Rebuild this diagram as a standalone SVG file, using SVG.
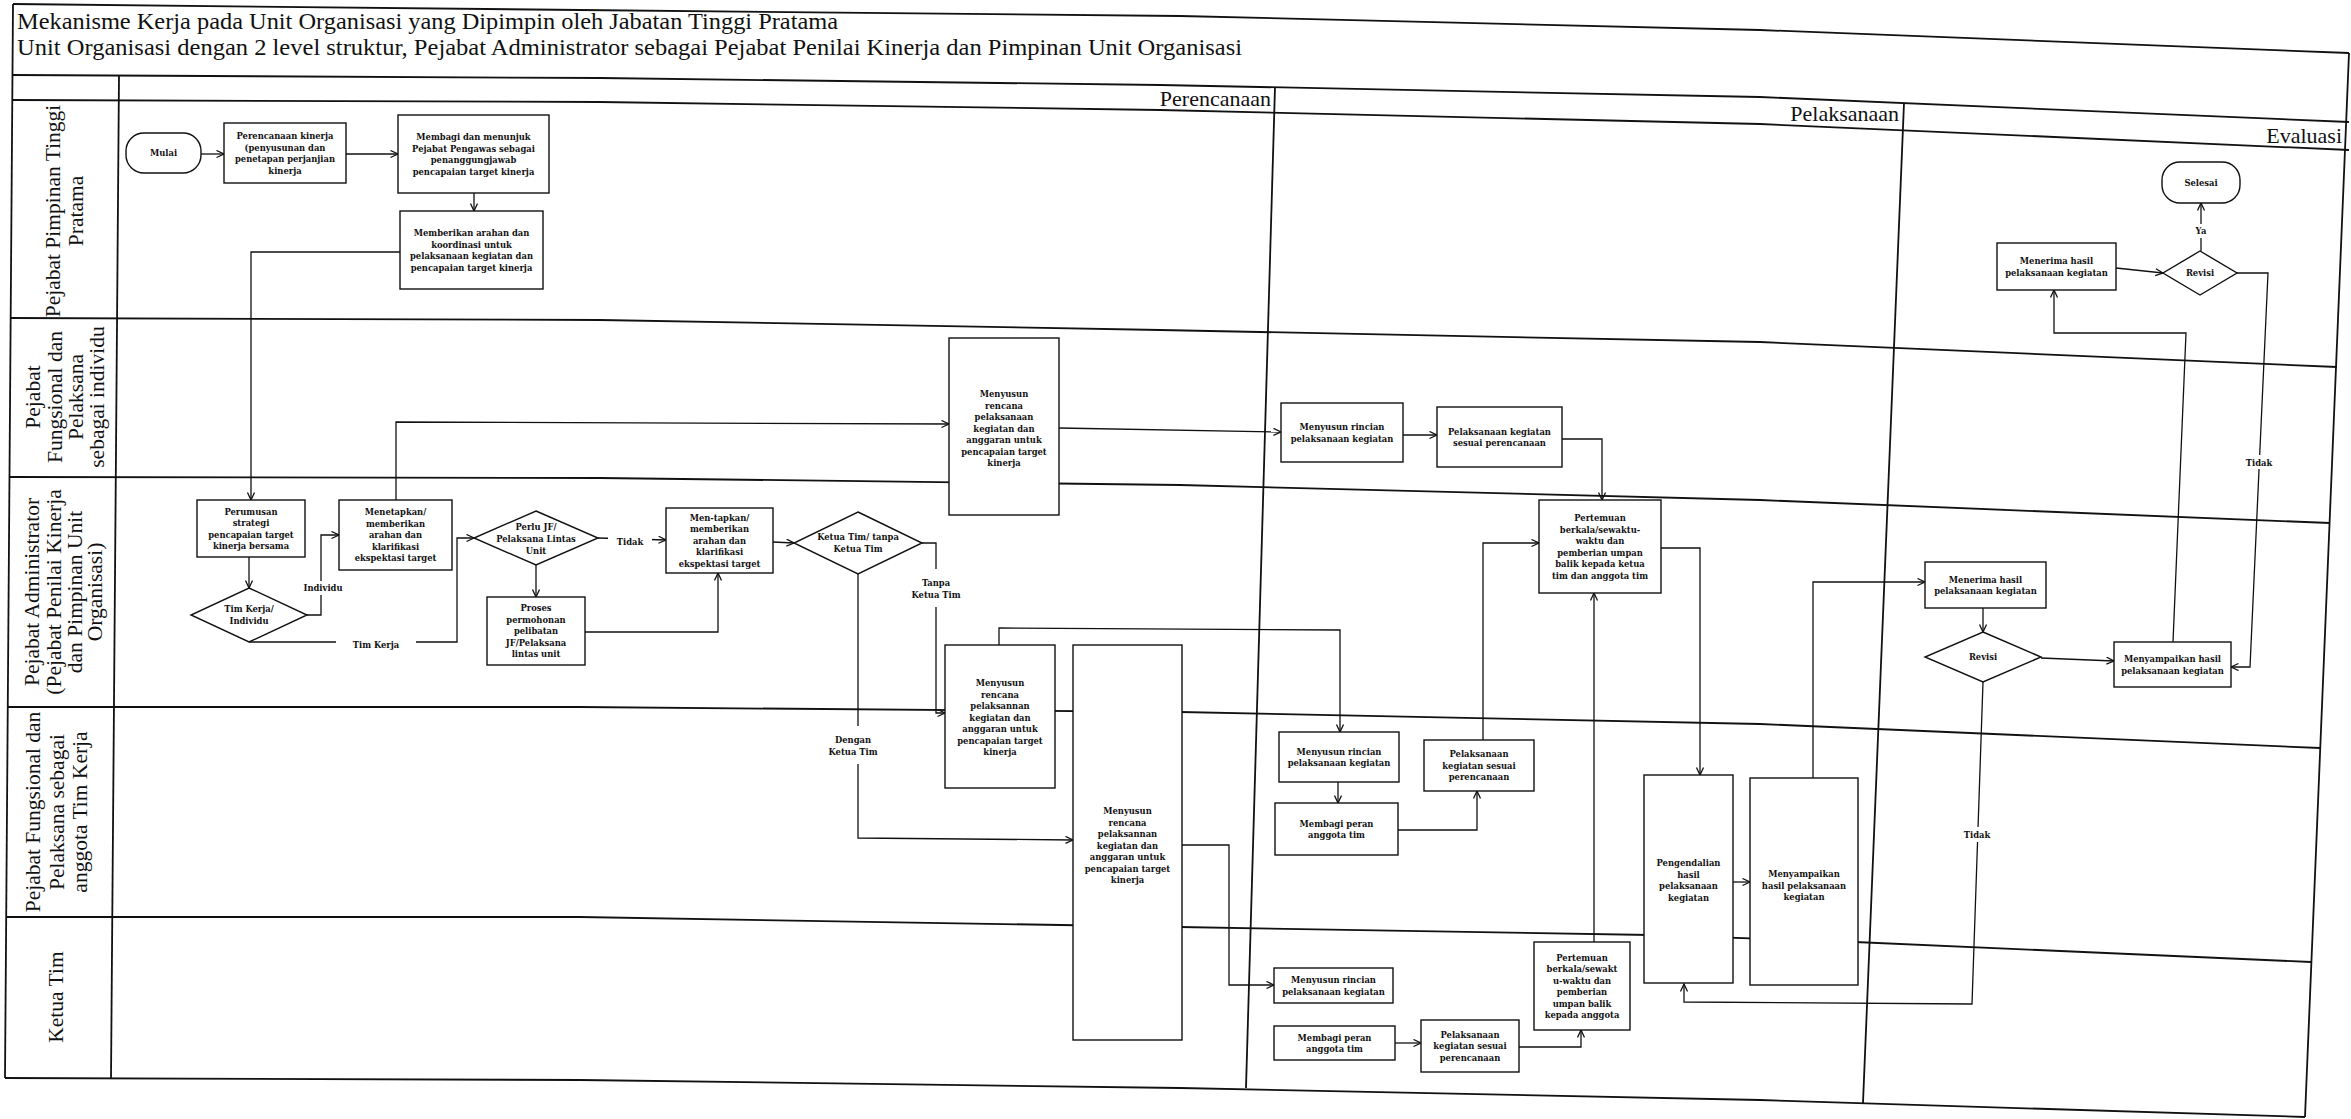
<svg xmlns="http://www.w3.org/2000/svg" width="2351" height="1119" viewBox="0 0 2351 1119">
<style>
.fr{fill:none;stroke:#111;stroke-width:1.8}
.nd{fill:#fff;stroke:#111;stroke-width:1.4}
.nt{font-family:"DejaVu Serif",serif;font-weight:bold;font-size:8.4px;text-anchor:middle;fill:#111}
.cn{fill:none;stroke:#111;stroke-width:1.3;marker-end:url(#ar)}
.bg{fill:#fff;stroke:none}
.ln{font-family:"Liberation Serif",serif;font-size:21.5px;text-anchor:middle;fill:#111}
.ph{font-family:"Liberation Serif",serif;font-size:22px;text-anchor:end;fill:#111}
.tt{font-family:"Liberation Serif",serif;font-size:22.5px;fill:#111}
</style>
<defs>
<marker id="ar" markerUnits="userSpaceOnUse" markerWidth="10" markerHeight="10" refX="8" refY="4" orient="auto">
<path d="M0.5,0.5 L8,4 L0.5,7.5" fill="none" stroke="#111" stroke-width="1.3"/>
</marker>
</defs>
<rect width="2351" height="1119" fill="#fff"/>

<g id="title">
<text class="tt" x="17" y="29" textLength="821" lengthAdjust="spacingAndGlyphs">Mekanisme Kerja pada Unit Organisasi yang Dipimpin oleh Jabatan Tinggi Pratama</text>
<text class="tt" x="17" y="55" textLength="1225" lengthAdjust="spacingAndGlyphs">Unit Organisasi dengan 2 level struktur, Pejabat Administrator sebagai Pejabat Penilai Kinerja dan Pimpinan Unit Organisasi</text>
</g>

<g id="frame">
<polyline class="fr" points="13,4 580,10 1180,16 1760,30 2349,53"/>
<polyline class="fr" points="13,75 600,78 1160,85 1760,97 2349,122"/>
<polyline class="fr" points="13,100 600,102 1160,110 1760,124 2349,150"/>
<polyline class="fr" points="11,318 600,320 1160,330 1760,342 2337,367"/>
<polyline class="fr" points="10,477 600,478 1180,485 1760,500 2330,523"/>
<polyline class="fr" points="8,707 580,707 1180,712 1760,724 2320,748"/>
<polyline class="fr" points="6,917 580,917 1180,927 1650,935 1855,942 2311,962"/>
<polyline class="fr" points="5,1078 580,1080 1180,1088 1760,1100 2305,1117"/>
<line class="fr" x1="13" y1="4" x2="5" y2="1078"/>
<line class="fr" x1="2349" y1="53" x2="2305" y2="1117"/>
<line class="fr" x1="119" y1="75" x2="111" y2="1078"/>
<line class="fr" x1="1275" y1="87" x2="1246" y2="1088"/>
<line class="fr" x1="1904" y1="103" x2="1863" y2="1103"/>
</g>

<g id="phases">
<text class="ph" x="1271" y="106">Perencanaan</text>
<text class="ph" x="1899" y="121">Pelaksanaan</text>
<text class="ph" x="2342" y="143">Evaluasi</text>
</g>

<g id="lanes">
<text class="ln" transform="translate(0,211) rotate(-90)"><tspan x="0" y="60">Pejabat Pimpinan Tinggi</tspan><tspan x="0" y="83">Pratama</tspan></text>
<text class="ln" transform="translate(0,397) rotate(-90)"><tspan x="0" y="40">Pejabat</tspan><tspan x="0" y="62">Fungsional dan</tspan><tspan x="0" y="83">Pelaksana</tspan><tspan x="0" y="104">sebagai individu</tspan></text>
<text class="ln" transform="translate(0,592) rotate(-90)"><tspan x="0" y="39">Pejabat Administrator</tspan><tspan x="0" y="61">(Pejabat Penilai Kinerja</tspan><tspan x="0" y="82">dan Pimpinan Unit</tspan><tspan x="0" y="102">Organisasi)</tspan></text>
<text class="ln" transform="translate(0,812) rotate(-90)"><tspan x="0" y="40">Pejabat Fungsional dan</tspan><tspan x="0" y="64">Pelaksana sebagai</tspan><tspan x="0" y="87">anggota Tim Kerja</tspan></text>
<text class="ln" transform="translate(0,997) rotate(-90)"><tspan x="0" y="63">Ketua Tim</tspan></text>
</g>

<g id="connectors">
<path class="cn" d="M201,154 H224"/>
<path class="cn" d="M346,154 H398"/>
<path class="cn" d="M474,193 V211"/>
<path class="cn" d="M400,252 H251 V500"/>
<path class="cn" d="M249,557 V588"/>
<path class="cn" d="M307,615 H321 V535 H339"/>
<path class="cn" d="M249,642 H457 V538 H474"/>
<path class="cn" d="M396,500 V422 L949,424"/>
<path class="cn" d="M536,565 V597"/>
<path class="cn" d="M585,632 H718 V573"/>
<path class="cn" d="M598,538 L666,540"/>
<path class="cn" d="M773,542 L794,543"/>
<path class="cn" d="M922,543 H936 V713 H945"/>
<path class="cn" d="M858,574 V838 L1073,840"/>
<path class="cn" d="M999,645 V628 L1340,630 V732"/>
<path class="cn" d="M1182,845 H1229 V985 H1274"/>
<path class="cn" d="M1059,428 L1281,432"/>
<path class="cn" d="M1403,435 H1437"/>
<path class="cn" d="M1562,439 H1602 V500"/>
<path class="cn" d="M1338,782 V803"/>
<path class="cn" d="M1398,830 H1477 V791"/>
<path class="cn" d="M1483,740 V543 H1539"/>
<path class="cn" d="M1594,942 V593"/>
<path class="cn" d="M1661,548 H1700 V775"/>
<path class="cn" d="M1395,1043 H1421"/>
<path class="cn" d="M1519,1047 H1581 V1030"/>
<path class="cn" d="M1733,882 H1750"/>
<path class="cn" d="M1813,778 V582 H1925"/>
<path class="cn" d="M1983,608 V632"/>
<path class="cn" d="M2041,658 L2114,661"/>
<path class="cn" d="M1983,682 L1972,1004 L1684,1002 V984"/>
<path class="cn" d="M2173,642 L2186,333 H2054 V290"/>
<path class="cn" d="M2116,268 L2163,273"/>
<path class="cn" d="M2201,251 V203"/>
<path class="cn" d="M2237,273 H2268 L2250,667 H2231"/>
<rect class="bg" x="300" y="581" width="46" height="14"/>
<text class="nt" x="323" y="591">Individu</text>
<rect class="bg" x="336" y="636" width="80" height="15"/>
<text class="nt" x="376" y="648">Tim Kerja</text>
<rect class="bg" x="608" y="533" width="44" height="15"/>
<text class="nt" x="630" y="545">Tidak</text>
<rect class="bg" x="908" y="569" width="56" height="38"/>
<text class="nt" x="936" y="586">Tanpa</text>
<text class="nt" x="936" y="598">Ketua Tim</text>
<rect class="bg" x="825" y="726" width="58" height="38"/>
<text class="nt" x="853" y="743">Dengan</text>
<text class="nt" x="853" y="755">Ketua Tim</text>
<rect class="bg" x="1960" y="827" width="34" height="15"/>
<text class="nt" x="1977" y="838">Tidak</text>
<rect class="bg" x="2193" y="224" width="17" height="14"/>
<text class="nt" x="2201" y="234">Ya</text>
<rect class="bg" x="2242" y="455" width="34" height="14"/>
<text class="nt" x="2259" y="466">Tidak</text>
</g>

<g id="n_mulai"><rect class="nd" x="126" y="133" width="75" height="40" rx="18"/><text class="nt" x="163.5" y="156">Mulai</text></g>
<g id="n_perencanaan"><rect class="nd" x="224" y="123" width="122" height="60"/><text class="nt"><tspan x="285" y="139">Perencanaan kinerja</tspan><tspan x="285" y="150.5">(penyusunan dan</tspan><tspan x="285" y="162">penetapan perjanjian</tspan><tspan x="285" y="173.5">kinerja</tspan></text></g>
<g id="n_membagi"><rect class="nd" x="398" y="115" width="151" height="78"/><text class="nt"><tspan x="473.5" y="140">Membagi dan menunjuk</tspan><tspan x="473.5" y="151.5">Pejabat Pengawas sebagai</tspan><tspan x="473.5" y="163">penanggungjawab</tspan><tspan x="473.5" y="174.5">pencapaian target kinerja</tspan></text></g>
<g id="n_memberikan"><rect class="nd" x="400" y="211" width="143" height="78"/><text class="nt"><tspan x="471.5" y="236">Memberikan arahan dan</tspan><tspan x="471.5" y="247.5">koordinasi untuk</tspan><tspan x="471.5" y="259">pelaksanaan kegiatan dan</tspan><tspan x="471.5" y="270.5">pencapaian target kinerja</tspan></text></g>
<g id="n_perumusan"><rect class="nd" x="197" y="500" width="108" height="57"/><text class="nt"><tspan x="251" y="514.5">Perumusan</tspan><tspan x="251" y="526">strategi</tspan><tspan x="251" y="537.5">pencapaian target</tspan><tspan x="251" y="549">kinerja bersama</tspan></text></g>
<g id="d_timkerja"><polygon class="nd" points="249,588 307,615 249,642 191,615"/><text class="nt"><tspan x="249" y="611.5">Tim Kerja/</tspan><tspan x="249" y="624">Individu</tspan></text></g>
<g id="n_menetapkan1"><rect class="nd" x="339" y="500" width="113" height="70"/><text class="nt"><tspan x="395.5" y="515">Menetapkan/</tspan><tspan x="395.5" y="526.5">memberikan</tspan><tspan x="395.5" y="538">arahan dan</tspan><tspan x="395.5" y="549.5">klarifikasi</tspan><tspan x="395.5" y="561">ekspektasi target</tspan></text></g>
<g id="d_perlujf"><polygon class="nd" points="536,511 598,538 536,565 474,538"/><text class="nt"><tspan x="536" y="530">Perlu JF/</tspan><tspan x="536" y="542">Pelaksana Lintas</tspan><tspan x="536" y="554">Unit</tspan></text></g>
<g id="n_proses"><rect class="nd" x="487" y="597" width="98" height="68"/><text class="nt"><tspan x="536" y="611">Proses</tspan><tspan x="536" y="622.5">permohonan</tspan><tspan x="536" y="634">pelibatan</tspan><tspan x="536" y="645.5">JF/Pelaksana</tspan><tspan x="536" y="657">lintas unit</tspan></text></g>
<g id="n_menetapkan2"><rect class="nd" x="666" y="508" width="107" height="65"/><text class="nt"><tspan x="719.5" y="520.5">Men-tapkan/</tspan><tspan x="719.5" y="532">memberikan</tspan><tspan x="719.5" y="543.5">arahan dan</tspan><tspan x="719.5" y="555">klarifikasi</tspan><tspan x="719.5" y="566.5">ekspektasi target</tspan></text></g>
<g id="d_ketua"><polygon class="nd" points="858,512 922,543 858,574 794,543"/><text class="nt"><tspan x="858" y="540">Ketua Tim/ tanpa</tspan><tspan x="858" y="552">Ketua Tim</tspan></text></g>
<g id="n_rencana1"><rect class="nd" x="949" y="338" width="110" height="177"/><text class="nt"><tspan x="1004" y="397">Menyusun</tspan><tspan x="1004" y="408.5">rencana</tspan><tspan x="1004" y="420">pelaksanaan</tspan><tspan x="1004" y="431.5">kegiatan dan</tspan><tspan x="1004" y="443">anggaran untuk</tspan><tspan x="1004" y="454.5">pencapaian target</tspan><tspan x="1004" y="466">kinerja</tspan></text></g>
<g id="n_rencana2"><rect class="nd" x="945" y="645" width="110" height="143"/><text class="nt"><tspan x="1000" y="686">Menyusun</tspan><tspan x="1000" y="697.5">rencana</tspan><tspan x="1000" y="709">pelaksannan</tspan><tspan x="1000" y="720.5">kegiatan dan</tspan><tspan x="1000" y="732">anggaran untuk</tspan><tspan x="1000" y="743.5">pencapaian target</tspan><tspan x="1000" y="755">kinerja</tspan></text></g>
<g id="n_rencana3"><rect class="nd" x="1073" y="645" width="109" height="395"/><text class="nt"><tspan x="1127.5" y="814">Menyusun</tspan><tspan x="1127.5" y="825.5">rencana</tspan><tspan x="1127.5" y="837">pelaksannan</tspan><tspan x="1127.5" y="848.5">kegiatan dan</tspan><tspan x="1127.5" y="860">anggaran untuk</tspan><tspan x="1127.5" y="871.5">pencapaian target</tspan><tspan x="1127.5" y="883">kinerja</tspan></text></g>
<g id="n_rincian1"><rect class="nd" x="1281" y="403" width="122" height="59"/><text class="nt"><tspan x="1342" y="430">Menyusun rincian</tspan><tspan x="1342" y="441.5">pelaksanaan kegiatan</tspan></text></g>
<g id="n_pelaksanaan1"><rect class="nd" x="1437" y="407" width="125" height="60"/><text class="nt"><tspan x="1499.5" y="434.5">Pelaksanaan kegiatan</tspan><tspan x="1499.5" y="446">sesuai perencanaan</tspan></text></g>
<g id="n_pertemuan1"><rect class="nd" x="1539" y="500" width="122" height="93"/><text class="nt"><tspan x="1600" y="521">Pertemuan</tspan><tspan x="1600" y="532.5">berkala/sewaktu-</tspan><tspan x="1600" y="544">waktu dan</tspan><tspan x="1600" y="555.5">pemberian umpan</tspan><tspan x="1600" y="567">balik kepada ketua</tspan><tspan x="1600" y="578.5">tim dan anggota tim</tspan></text></g>
<g id="n_rincian2"><rect class="nd" x="1279" y="732" width="120" height="50"/><text class="nt"><tspan x="1339" y="754.5">Menyusun rincian</tspan><tspan x="1339" y="766">pelaksanaan kegiatan</tspan></text></g>
<g id="n_membagi2"><rect class="nd" x="1275" y="803" width="123" height="52"/><text class="nt"><tspan x="1336.5" y="826.5">Membagi peran</tspan><tspan x="1336.5" y="838">anggota tim</tspan></text></g>
<g id="n_pelaksanaan2"><rect class="nd" x="1424" y="740" width="110" height="51"/><text class="nt"><tspan x="1479" y="757">Pelaksanaan</tspan><tspan x="1479" y="768.5">kegiatan sesuai</tspan><tspan x="1479" y="780">perencanaan</tspan></text></g>
<g id="n_rincian3"><rect class="nd" x="1274" y="968" width="119" height="35"/><text class="nt"><tspan x="1333.5" y="983">Menyusun rincian</tspan><tspan x="1333.5" y="994.5">pelaksanaan kegiatan</tspan></text></g>
<g id="n_membagi3"><rect class="nd" x="1274" y="1026" width="121" height="34"/><text class="nt"><tspan x="1334.5" y="1040.5">Membagi peran</tspan><tspan x="1334.5" y="1052">anggota tim</tspan></text></g>
<g id="n_pelaksanaan3"><rect class="nd" x="1421" y="1020" width="98" height="52"/><text class="nt"><tspan x="1470" y="1037.5">Pelaksanaan</tspan><tspan x="1470" y="1049">kegiatan sesuai</tspan><tspan x="1470" y="1060.5">perencanaan</tspan></text></g>
<g id="n_pertemuan2"><rect class="nd" x="1534" y="942" width="96" height="88"/><text class="nt"><tspan x="1582" y="960.5">Pertemuan</tspan><tspan x="1582" y="972">berkala/sewakt</tspan><tspan x="1582" y="983.5">u-waktu dan</tspan><tspan x="1582" y="995">pemberian</tspan><tspan x="1582" y="1006.5">umpan balik</tspan><tspan x="1582" y="1018">kepada anggota</tspan></text></g>
<g id="n_pengendalian"><rect class="nd" x="1644" y="775" width="89" height="208"/><text class="nt"><tspan x="1688.5" y="866">Pengendalian</tspan><tspan x="1688.5" y="877.5">hasil</tspan><tspan x="1688.5" y="889">pelaksanaan</tspan><tspan x="1688.5" y="900.5">kegiatan</tspan></text></g>
<g id="n_menyampaikan1"><rect class="nd" x="1750" y="778" width="108" height="207"/><text class="nt"><tspan x="1804" y="877">Menyampaikan</tspan><tspan x="1804" y="888.5">hasil pelaksanaan</tspan><tspan x="1804" y="900">kegiatan</tspan></text></g>
<g id="n_menerima1"><rect class="nd" x="1997" y="243" width="119" height="47"/><text class="nt"><tspan x="2056.5" y="264">Menerima hasil</tspan><tspan x="2056.5" y="275.5">pelaksanaan kegiatan</tspan></text></g>
<g id="d_revisi1"><polygon class="nd" points="2200,251 2237,273 2200,295 2163,273"/><text class="nt" x="2200" y="276">Revisi</text></g>
<g id="n_selesai"><rect class="nd" x="2162" y="162" width="78" height="41" rx="18"/><text class="nt" x="2201" y="185.5">Selesai</text></g>
<g id="n_menerima2"><rect class="nd" x="1925" y="562" width="121" height="46"/><text class="nt"><tspan x="1985.5" y="582.5">Menerima hasil</tspan><tspan x="1985.5" y="594">pelaksanaan kegiatan</tspan></text></g>
<g id="d_revisi2"><polygon class="nd" points="1983,632 2041,657 1983,682 1925,657"/><text class="nt" x="1983" y="660">Revisi</text></g>
<g id="n_menyampaikan2"><rect class="nd" x="2114" y="642" width="117" height="45"/><text class="nt"><tspan x="2172.5" y="662">Menyampaikan hasil</tspan><tspan x="2172.5" y="673.5">pelaksanaan kegiatan</tspan></text></g>
</svg>
